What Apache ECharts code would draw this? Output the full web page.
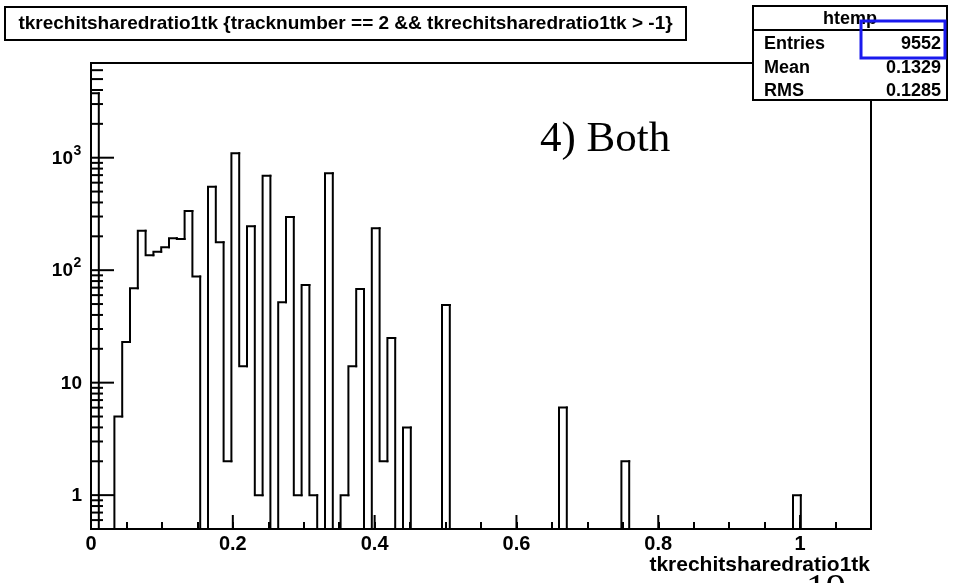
<!DOCTYPE html>
<html>
<head>
<meta charset="utf-8">
<script src="https://cdn.jsdelivr.net/npm/echarts@6/dist/echarts.min.js"></script>
<style>
  html, body { margin: 0; padding: 0; background: #ffffff; }
  #chart { width: 953px; height: 583px; }
</style>
</head>
<body>
<div id="chart"></div>
<script>
// Binning of the histogram: 100 equal bins on [0, 1.1]
const xMin = 0;
const xMax = 1.1;
const nBins = 100;
const binWidth = (xMax - xMin) / nBins;

// Log-scale range of the y axis
const yMin = 0.5;
const yMax = 6950;

// Entries per bin; bin k covers [k*0.011, (k+1)*0.011)
const counts = [
  3735, 0, 0, 5, 23, 69, 224, 136, 146, 160,
  192, 189, 336, 88, 0, 553, 177, 2, 1093, 14,
  246, 1, 690, 0, 52, 297, 1, 74, 1, 0,
  726, 0, 1, 14, 68, 0, 236, 2, 25, 0,
  4, 0, 0, 0, 0, 49, 0, 0, 0, 0,
  0, 0, 0, 0, 0, 0, 0, 0, 0, 0,
  6, 0, 0, 0, 0, 0, 0, 0, 2, 0,
  0, 0, 0, 0, 0, 0, 0, 0, 0, 0,
  0, 0, 0, 0, 0, 0, 0, 0, 0, 0,
  1, 0, 0, 0, 0, 0, 0, 0, 0, 0
];

// Tick labels
const xLabelStep = 0.2;
const xLabelMax = 1.0;
const yTickValues = [1, 10, 100, 1000];
const yTickBase = ['1', '10', '10', '10'];
const yTickExp = ['', '', '2', '3'];

// Titles and statistics box
const histTitle = 'tkrechitsharedratio1tk {tracknumber == 2 && tkrechitsharedratio1tk > -1}';
const xAxisTitle = 'tkrechitsharedratio1tk';
const statsName = 'htemp';
const statLabels = ['Entries', 'Mean', 'RMS'];
const statValues = ['9552', '0.1329', '0.1285'];
const annotation = '4) Both';
const pageNumber = '19';

const SANS = '"Liberation Sans", Arial, Helvetica, sans-serif';
const SERIF = '"Liberation Serif", "Times New Roman", serif';

const clampY = v => Math.max(v, yMin);

// Histogram outline: each bin draws its left edge (from the previous
// bin height) and its top edge.
const histData = counts.map((c, i) => [xMin + i * binWidth, xMin + (i + 1) * binWidth, clampY(c)]);

function renderBin(params, api) {
  const i = params.dataIndex;
  const lo = api.value(0);
  const hi = api.value(1);
  const cur = api.value(2);
  const prev = i > 0 ? clampY(counts[i - 1]) : yMin;
  const pts = [api.coord([lo, prev]), api.coord([lo, cur]), api.coord([hi, cur])];
  if (i === counts.length - 1) pts.push(api.coord([hi, yMin]));
  return {
    type: 'polyline',
    shape: { points: pts },
    style: { stroke: '#000', lineWidth: 2, fill: null, lineCap: 'square', lineJoin: 'miter' }
  };
}

// Log-axis ticks, y labels with exponents and major x ticks
function renderTicks(params, api) {
  const children = [];
  const origin = api.coord([xMin, yMin]);
  const x0 = origin[0];
  const yBottom = origin[1];
  const majorY = 23, minorY = 12, majorX = 14;

  // minor ticks 2..9 in each decade
  for (let k = -1; k <= 3; k++) {
    for (let m = 2; m <= 9; m++) {
      const v = m * Math.pow(10, k);
      if (v <= yMin || v >= yMax) continue;
      const y = api.coord([xMin, v])[1];
      children.push({ type: 'line', shape: { x1: x0, y1: y, x2: x0 + minorY, y2: y },
        style: { stroke: '#000', lineWidth: 2 } });
    }
  }
  // major ticks and labels
  yTickValues.forEach((v, idx) => {
    const y = api.coord([xMin, v])[1];
    children.push({ type: 'line', shape: { x1: x0, y1: y, x2: x0 + majorY, y2: y },
      style: { stroke: '#000', lineWidth: 2 } });
    const right = x0 - 9;
    const exp = yTickExp[idx];
    const expW = exp ? 9 : 0;
    children.push({ type: 'text', x: right - expW, y: y + 1,
      style: { text: yTickBase[idx], fontFamily: SANS, fontWeight: 'bold', fontSize: 19,
        fill: '#000', align: 'right', verticalAlign: 'middle' } });
    if (exp) {
      children.push({ type: 'text', x: right - expW + 0.5, y: y - 7,
        style: { text: exp, fontFamily: SANS, fontWeight: 'bold', fontSize: 14,
          fill: '#000', align: 'left', verticalAlign: 'middle' } });
    }
  });
  // major x ticks
  for (let v = xMin; v <= xLabelMax + 1e-9; v += xLabelStep) {
    const x = api.coord([v, yMin])[0];
    children.push({ type: 'line', shape: { x1: x, y1: yBottom, x2: x, y2: yBottom - majorX },
      style: { stroke: '#000', lineWidth: 2 } });
  }
  return { type: 'group', children };
}

const chart = echarts.init(document.getElementById('chart'), null, { renderer: 'canvas' });

chart.setOption({
  animation: false,
  backgroundColor: '#ffffff',
  grid: {
    left: 91, top: 63, width: 780, height: 466,
    show: true, borderColor: '#000', borderWidth: 2, backgroundColor: 'transparent'
  },
  xAxis: {
    type: 'value', min: xMin, max: xMax, interval: 0.05,
    axisLine: { show: true, lineStyle: { color: '#000', width: 2 } },
    axisTick: { show: true, inside: true, length: 7, lineStyle: { color: '#000', width: 2 } },
    axisLabel: {
      show: true, interval: 0, margin: 5, color: '#000',
      fontFamily: SANS, fontWeight: 'bold', fontSize: 20,
      formatter: v => {
        const r = v / xLabelStep;
        if (Math.abs(r - Math.round(r)) > 1e-6 || v > xLabelMax + 1e-6) return '';
        return v === 0 ? '0' : String(+v.toFixed(1));
      }
    },
    splitLine: { show: false }
  },
  yAxis: {
    type: 'log', logBase: 10, min: yMin, max: yMax,
    axisLine: { show: true, lineStyle: { color: '#000', width: 2 } },
    axisTick: { show: false },
    axisLabel: { show: false },
    splitLine: { show: false }
  },
  series: [
    {
      type: 'custom', name: statsName, coordinateSystem: 'cartesian2d',
      data: histData, encode: { x: [0, 1], y: 2 },
      renderItem: renderBin, z: 3, silent: true
    },
    {
      type: 'custom', coordinateSystem: 'cartesian2d',
      data: [[xMin, 1]], encode: { x: 0, y: 1 },
      renderItem: renderTicks, z: 4, silent: true
    }
  ],
  graphic: [
    // title box
    { type: 'rect', shape: { x: 5, y: 7, width: 681, height: 33 },
      style: { fill: '#fff', stroke: '#000', lineWidth: 2 }, z: 10 },
    { type: 'text', x: 345.5, y: 24,
      style: { text: histTitle, fontFamily: SANS, fontWeight: 'bold', fontSize: 19,
        fill: '#000', align: 'center', verticalAlign: 'middle' }, z: 11 },
    // statistics box
    { type: 'rect', shape: { x: 753, y: 6, width: 194, height: 94 },
      style: { fill: '#fff', stroke: '#000', lineWidth: 2 }, z: 10 },
    { type: 'line', shape: { x1: 753, y1: 30, x2: 947, y2: 30 },
      style: { stroke: '#000', lineWidth: 2 }, z: 11 },
    { type: 'text', x: 850, y: 19,
      style: { text: statsName, fontFamily: SANS, fontWeight: 'bold', fontSize: 18,
        fill: '#000', align: 'center', verticalAlign: 'middle' }, z: 11 },
    ...statLabels.map((s, i) => ({ type: 'text', x: 764, y: [44, 68.5, 91][i],
      style: { text: s, fontFamily: SANS, fontWeight: 'bold', fontSize: 18,
        fill: '#000', align: 'left', verticalAlign: 'middle' }, z: 11 })),
    ...statValues.map((s, i) => ({ type: 'text', x: 941, y: [44, 68.5, 91][i],
      style: { text: s, fontFamily: SANS, fontWeight: 'bold', fontSize: 18,
        fill: '#000', align: 'right', verticalAlign: 'middle' }, z: 11 })),
    { type: 'rect', shape: { x: 861, y: 21, width: 84, height: 37 },
      style: { fill: null, stroke: '#1a1aee', lineWidth: 3 }, z: 12 },
    // annotation inside the frame
    { type: 'text', x: 540, y: 140,
      style: { text: annotation, fontFamily: SERIF, fontSize: 43,
        fill: '#000', align: 'left', verticalAlign: 'middle' }, z: 11 },
    // x axis title
    { type: 'text', x: 870, y: 565.5,
      style: { text: xAxisTitle, fontFamily: SANS, fontWeight: 'bold', fontSize: 21,
        fill: '#000', align: 'right', verticalAlign: 'middle' }, z: 11 },
    // page number, mostly below the visible area
    { type: 'text', x: 806, y: 590,
      style: { text: pageNumber, fontFamily: SERIF, fontSize: 40,
        fill: '#000', align: 'left', verticalAlign: 'middle' }, z: 9 }
  ]
});
</script>
</body>
</html>
